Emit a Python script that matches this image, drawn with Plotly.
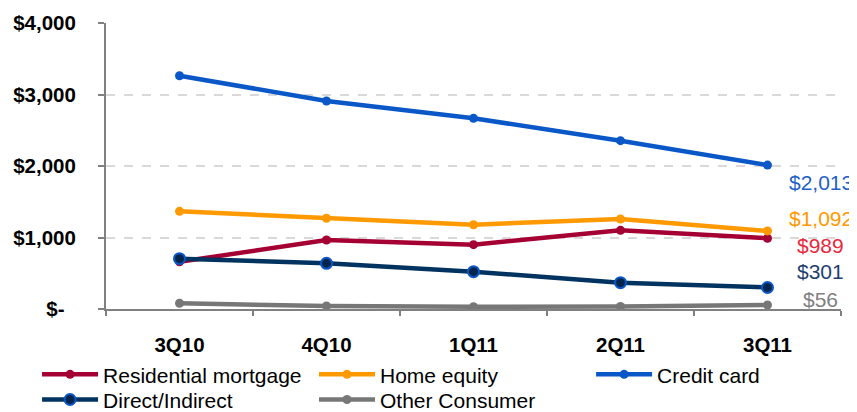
import plotly.graph_objects as go

quarters = ["3Q10", "4Q10", "1Q11", "2Q11", "3Q11"]

residential_mortgage = [660, 965, 900, 1100, 989]
home_equity = [1366, 1269, 1179, 1259, 1092]
credit_card = [3263, 2909, 2667, 2354, 2013]
direct_indirect = [704, 639, 522, 368, 301]
other_consumer = [80, 42, 32, 35, 56]

y_tickvals = [0, 1000, 2000, 3000, 4000]
y_ticktext = ["$-\u00a0\u00a0", "$1,000", "$2,000", "$3,000", "$4,000"]

FONT = "Arial, Liberation Sans, sans-serif"

# name, values, line colour, marker fill, marker border, label colour, label y shift, legend
series = [
    ("Residential mortgage", residential_mortgage, "#A50034", "#A50034", "#A50034", "#E8283C", -7, "legend"),
    ("Home equity", home_equity, "#FF9900", "#FF9900", "#FF9900", "#FF9900", 12, "legend2"),
    ("Credit card", credit_card, "#0A57C8", "#0A57C8", "#0A57C8", "#1F5FC8", -17, "legend3"),
    ("Direct/Indirect", direct_indirect, "#00335F", "#00264D", "#0A57C8", "#1F3F6E", 16, "legend4"),
    ("Other Consumer", other_consumer, "#777777", "#777777", "#777777", "#808080", 6, "legend5"),
]

fig = go.Figure()

for name, vals, lc, mfill, mline, labc, yshift, leg in series:
    big = name == "Direct/Indirect"
    fig.add_trace(go.Scatter(
        x=quarters, y=vals, name=name, mode="lines+markers",
        line=dict(color=lc, width=4.5),
        marker=dict(size=11 if big else 9, color=mfill,
                    line=dict(color=mline, width=2 if big else 0)),
        legend=leg,
    ))
    fig.add_annotation(
        x=quarters[-1], y=vals[-1], xref="x", yref="y",
        text="$" + format(vals[-1], ","), showarrow=False,
        xanchor="center", xshift=53, yshift=yshift,
        font=dict(family=FONT, size=21, color=labc),
    )

legend_style = dict(orientation="v", xanchor="left", yanchor="top",
                    itemwidth=56, font=dict(size=21, family=FONT, color="#000000"),
                    bgcolor="rgba(0,0,0,0)")
row1, row2 = -0.158, -0.246
col1, col2, col3 = -0.0938, 0.283, 0.66

fig.update_layout(
    width=849, height=404,
    margin=dict(l=98, r=16, t=15, b=103, autoexpand=False),
    plot_bgcolor="white", paper_bgcolor="white",
    font=dict(family=FONT, size=20, color="#000000"),
    legend=dict(x=col1, y=row1, **legend_style),
    legend2=dict(x=col2, y=row1, **legend_style),
    legend3=dict(x=col3, y=row1, **legend_style),
    legend4=dict(x=col1, y=row2, **legend_style),
    legend5=dict(x=col2, y=row2, **legend_style),
    showlegend=True,
)

fig.update_xaxes(
    type="category", range=[-0.5, 4.5],
    showline=True, linecolor="#808080", linewidth=2,
    ticks="outside", tickson="boundaries", ticklen=5, tickcolor="#808080", tickwidth=2,
    showgrid=False, tickfont=dict(size=20.5, family=FONT, color="#000000", weight="bold"),
    ticklabelstandoff=16,
)
fig.update_yaxes(
    range=[0, 4000], tickvals=y_tickvals, ticktext=y_ticktext,
    showline=True, linecolor="#808080", linewidth=2,
    ticks="outside", ticklen=6, tickcolor="#808080", tickwidth=2,
    showgrid=True, gridcolor="#D9D9D9", griddash="dash", gridwidth=1.5,
    zeroline=False,
    tickfont=dict(size=20.5, family=FONT, color="#000000", weight="bold"),
    ticklabelstandoff=18,
)

fig.write_html("out.html")
